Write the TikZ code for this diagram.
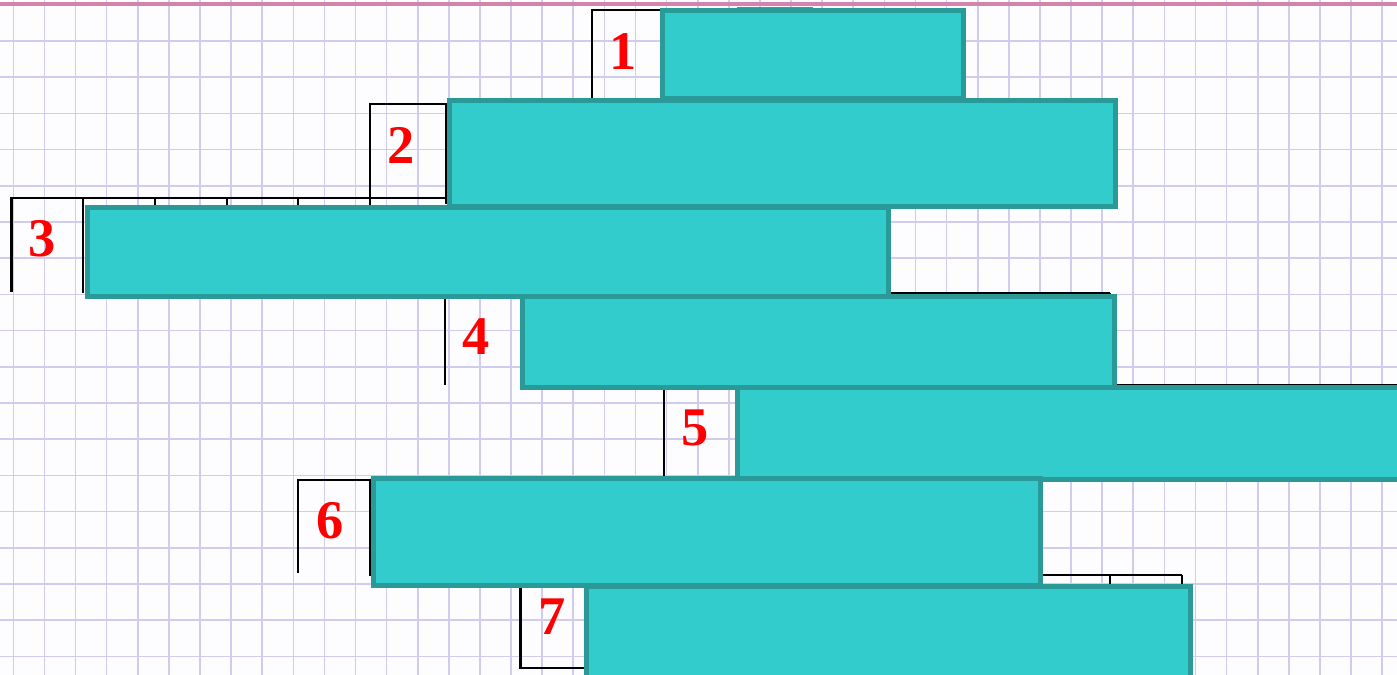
\documentclass[tikz,border=0pt]{standalone}
\usepackage{fontspec}
\setmainfont{Liberation Serif}
\usepackage{xcolor}
\usepackage{tikz}
\definecolor{paper}{HTML}{FDFCFF}
\definecolor{gridline}{HTML}{CFCCEE}
\definecolor{marginline}{HTML}{D483AE}
\definecolor{tealfill}{HTML}{33CCCC}
\definecolor{tealedge}{HTML}{2A9A98}

\begin{document}
\begin{tikzpicture}[x=0.02cm, y=-0.02cm,
    cell/.style={black, line width=1.4pt},
    answer/.style={fill=tealfill, draw=tealedge, line width=2.8pt},
    num/.style={red, font=\fontsize{31}{32}\selectfont\bfseries}]
    \useasboundingbox (0,0) rectangle (1397,675);
    \clip (0,0) rectangle (1397,675);
    \fill[paper] (0,0) rectangle (1397,675);

    % Squared paper
    \foreach \k in {0,...,44} {
        \draw[gridline, line width=0.9pt] (13.3+31.11*\k, 0) -- (13.3+31.11*\k, 675);
    }
    \foreach \k in {0,...,17} {
        \draw[gridline, line width=0.9pt] (0, 41+36.2*\k) -- (1397, 41+36.2*\k);
    }
    \draw[marginline, line width=2.2pt] (0,4) -- (1397,4);

    % Cells
    \draw[cell] (592,98) -- (592,10) -- (662,10);
    \draw[gray, line width=1.4pt] (737,8) -- (813,8);
    \draw[cell] (370,198) -- (370,104) -- (446,104) -- (446,204);
    \draw[cell] (11.7,292) -- (11.7,198) -- (446,198);
    \draw[cell] (83,198) -- (83,293);
    \foreach \x in {155,227,298,370} {
        \draw[cell] (\x,198) -- (\x,206);
    }
    \draw[cell] (445,298) -- (445,385);
    \draw[cell] (521,296) -- (521,388);
    \draw[cell] (889,293) -- (1110,293);
    \foreach \x in {959,1035,1110} {
        \draw[cell] (\x,293) -- (\x,297);
    }
    \draw[cell] (664,390) -- (664,477);
    \draw[cell] (1115,385) -- (1397,385);
    \draw[cell] (298,573) -- (298,480) -- (370,480) -- (370,576);
    \draw[cell] (1040,575) -- (1182,575);
    \foreach \x in {1110,1182} {
        \draw[cell] (\x,575) -- (\x,585);
    }
    \draw[cell] (520.7,588) -- (520.7,668) -- (586,668);

    % Answers
    \foreach \xa/\ya/\xb/\yb in {662.5/10.5/963.5/98.5, 87.5/207.5/888.5/296.5,
        449.5/100.5/1115.5/206.5, 522.5/296.5/1114.5/387.5, 737.5/387.5/1405/479.5,
        373.5/478.5/1040.5/585.5, 586.5/586.5/1190.5/680} {
        \draw[answer] (\xa,\ya) rectangle (\xb,\yb);
    }

    % Numbers
    \foreach \n/\x/\y in {1/623/52, 2/401/145, 3/42/239, 4/476/337,
        5/695.5/428, 6/330/521, 7/552/617} {
        \node[num] (n\n) at (\x,\y) {\n};
    }
\end{tikzpicture}
\end{document}
